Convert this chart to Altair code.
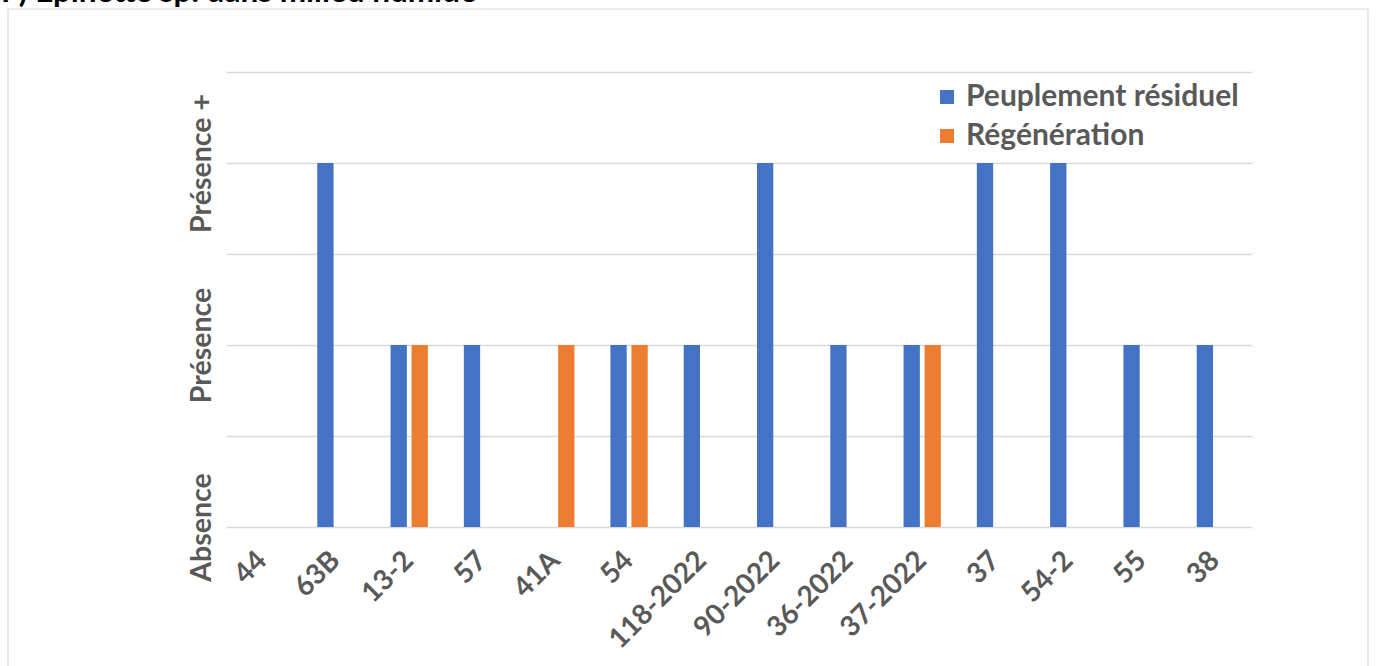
import altair as alt
import pandas as pd

# Stands (x categories) and presence scores per series (0 = Absence, 1 = Présence, 2 = Présence +)
placettes = ["44", "63B", "13-2", "57", "41A", "54", "118-2022", "90-2022",
             "36-2022", "37-2022", "37", "54-2", "55", "38"]
peuplement_residuel = [0, 2, 1, 1, 0, 1, 1, 2, 1, 1, 2, 2, 1, 1]
regeneration = [0, 0, 1, 0, 1, 1, 0, 0, 0, 1, 0, 0, 0, 0]
series = ["Peuplement résiduel", "Régénération"]
colors = ["#4472C4", "#ED7D31"]
title_text = "F) Epinette sp. dans milieu humide"

rows = []
for i, p in enumerate(placettes):
    rows.append({"placette": p, "serie": series[0], "valeur": peuplement_residuel[i]})
    rows.append({"placette": p, "serie": series[1], "valeur": regeneration[i]})
df = pd.DataFrame(rows)

W, H = 1026, 455
PAD_L, PAD_T = 226, 72
FONT = "Lato"
GREY = "#595959"

bars = alt.Chart(df).mark_bar().encode(
    x=alt.X("placette:N", sort=placettes, title=None,
            scale=alt.Scale(paddingInner=0.491, paddingOuter=0.2455),
            axis=alt.Axis(labelAngle=-45, labelAlign="right", labelBaseline="middle",
                          labelPadding=29, labelFont=FONT, labelFontSize=28,
                          labelFontWeight="bold", labelColor=GREY, ticks=False,
                          domain=False, grid=False, labelLimit=0)),
    xOffset=alt.XOffset("serie:N", sort=series,
                        scale=alt.Scale(paddingInner=0.224, paddingOuter=0)),
    y=alt.Y("valeur:Q", title=None,
            scale=alt.Scale(domain=[0, 2.5], nice=False),
            axis=alt.Axis(values=[0, 0.5, 1, 1.5, 2, 2.5],
                          labelExpr="datum.value == 0 ? 'Absence' : datum.value == 1 ? 'Présence' : datum.value == 2 ? 'Présence +' : ''",
                          labelAngle=-90, labelAlign="center", labelBaseline="bottom",
                          labelPadding=10, labelFont=FONT, labelFontSize=28.5,
                          labelFontWeight="bold", labelColor=GREY, ticks=False,
                          domain=False, grid=True, gridColor="#d9d9d9",
                          gridWidth=1.5, labelLimit=0, labelOverlap=False)),
    color=alt.Color("serie:N", sort=series,
                    scale=alt.Scale(domain=series, range=colors),
                    legend=alt.Legend(title=None, orient="none",
                                      legendX=706, legendY=10,
                                      symbolType="square", symbolSize=196,
                                      symbolStrokeWidth=0,
                                      labelFont=FONT, labelFontSize=30,
                                      labelFontWeight="bold", labelColor=GREY,
                                      rowPadding=9, labelOffset=4, labelLimit=0)),
)

# Outer frame around the chart area
frame = alt.Chart(pd.DataFrame({"k": [0]})).mark_rect(
    fill=None, stroke="#d9d9d9", strokeWidth=1.2
).encode(
    x=alt.value(8 - PAD_L), x2=alt.value(1368 - PAD_L),
    y=alt.value(9 - PAD_T), y2=alt.value(700 - PAD_T),
)

title = alt.Chart(pd.DataFrame({"t": [title_text]})).mark_text(
    align="left", baseline="alphabetic", font=FONT, fontSize=31.5,
    fontWeight="bold", color="#000000"
).encode(
    x=alt.value(-PAD_L + 1), y=alt.value(-PAD_T + 2), text="t:N"
)

chart = alt.layer(frame, bars, title).properties(
    width=W, height=H,
    autosize=alt.AutoSizeParams(type="none"),
    padding={"left": PAD_L, "top": PAD_T, "right": 1377 - PAD_L - W,
             "bottom": 666 - PAD_T - H},
    background="white",
).configure_view(stroke=None)

chart.save("out.html", embed_options={"renderer": "svg", "actions": False})
